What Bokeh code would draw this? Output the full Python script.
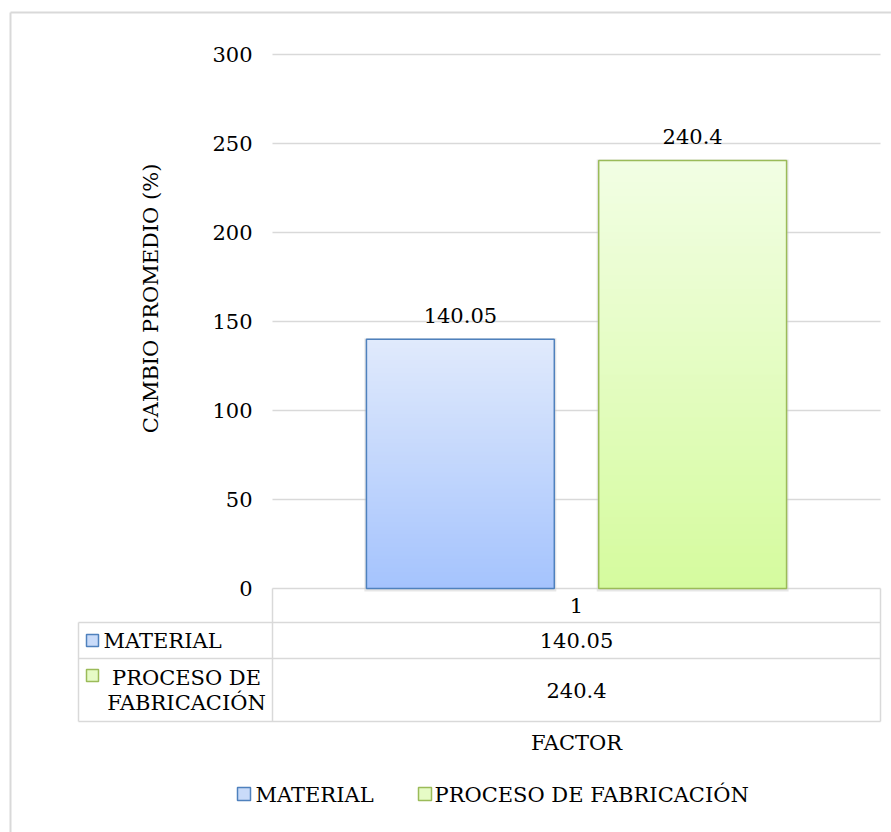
import math

from bokeh.core.properties import value
from bokeh.embed import file_html
from bokeh.models import Range1d
from bokeh.plotting import figure
from bokeh.resources import INLINE

# ---- data ---------------------------------------------------------------
categories = ["1"]
series_names = ["MATERIAL", "PROCESO DE FABRICACIÓN"]
material = [140.05]
proceso = [240.4]
y_ticks = [0, 50, 100, 150, 200, 250, 300]
y_title = "CAMBIO PROMEDIO (%)"
x_title = "FACTOR"

# ---- page layout (pixels) -------------------------------------------------
W, H = 891, 832
PLOT_L, PLOT_R = 272, 880          # plot area, left/right edge
PLOT_T, PLOT_B = 54, 588           # plot area, top (y=300) / bottom (y=0)
Y_MAX = 300

FONT = value("DejaVu Serif")
FS = "21px"
GRID = "#d9d9d9"
BLUE_LINE, GREEN_LINE = "#4f81bd", "#9bbb59"
BLUE_TOP, BLUE_BOT = (0xe0, 0xea, 0xfc), (0xa5, 0xc3, 0xfd)
GREEN_TOP, GREEN_BOT = (0xf2, 0xfe, 0xe4), (0xd5, 0xfb, 0x9e)


def ux(px):
    """pixel column -> category units (0..1 spans the plot area)"""
    return (px - PLOT_L) / (PLOT_R - PLOT_L)


def vy(py):
    """pixel row -> value units"""
    return (PLOT_B - py) * Y_MAX / (PLOT_B - PLOT_T)


def dx(n):
    return n / (PLOT_R - PLOT_L)


def dy(n):
    return n * Y_MAX / (PLOT_B - PLOT_T)


def mix(a, b, t):
    return "#%02x%02x%02x" % tuple(round(a[i] + (b[i] - a[i]) * t) for i in range(3))


def label(x, y, text, align="left", **kw):
    p.text(x=x, y=y, text=text, text_font=FONT, text_font_size=FS,
           text_color="black", text_align=align, text_baseline="middle",
           **kw)


p = figure(
    width=W, height=H,
    x_range=Range1d(ux(0), ux(W)), y_range=Range1d(vy(H), vy(0)),
    x_axis_type=None, y_axis_type=None,
    toolbar_location=None, output_backend="svg",
    min_border=0, outline_line_color=None,
    background_fill_color="white", border_fill_color="white",
)

# chart-area frame
p.multi_line(xs=[[ux(10), ux(10)], [ux(10), ux(W + 10)]],
             ys=[[vy(12), vy(H + 10)], [vy(12), vy(12)]],
             line_color=GRID, line_width=2)

# horizontal gridlines (the one at 0 doubles as the category axis)
p.segment(x0=[0] * len(y_ticks), x1=[1] * len(y_ticks),
          y0=y_ticks, y1=y_ticks, line_color=GRID, line_width=1.5)

# value-axis tick labels
label([ux(252)] * len(y_ticks), y_ticks, [str(t) for t in y_ticks],
      align="right")

# value-axis title
label([ux(150)], [vy(298)], [y_title], align="center", angle=math.pi / 2)

# ---- bars -----------------------------------------------------------------
BAR_W = 0.309
OFFSETS = [-0.191, 0.191]
series = [
    (material, BLUE_TOP, BLUE_BOT, BLUE_LINE),
    (proceso, GREEN_TOP, GREEN_BOT, GREEN_LINE),
]
N = 60
for (vals, top_c, bot_c, line_c), off in zip(series, OFFSETS):
    for i, v in enumerate(vals):
        cx = i + 0.5 + off
        left, right = cx - BAR_W / 2, cx + BAR_W / 2
        # soft shadow
        p.quad(left=[left - dx(2)], right=[right + dx(2)], bottom=[-dy(3)],
               top=[v + dy(1)], fill_color="#c8c8c8", fill_alpha=0.45,
               line_color=None)
        # vertical gradient fill, light at the top (bands overlap to avoid seams)
        bots = [v * k / N for k in range(N)]
        tops = [min(v, v * (k + 1.8) / N) for k in range(N)]
        cols = [mix(bot_c, top_c, (k + 0.5) / N) for k in range(N)]
        p.quad(left=[left] * N, right=[right] * N, bottom=bots, top=tops,
               fill_color=cols, line_color=None)
        p.quad(left=[left], right=[right], bottom=[0], top=[v],
               fill_color=None, line_color=line_c, line_width=1.5)
        # data label
        label([cx], [v], [f"{v:g}"], align="center", y_offset=-24)

# ---- data table -------------------------------------------------------------
ROW_LINES = [622, 658, 721]
p.segment(x0=[ux(78)] * 3, x1=[ux(PLOT_R)] * 3,
          y0=[vy(r) for r in ROW_LINES], y1=[vy(r) for r in ROW_LINES],
          line_color=GRID, line_width=1.5)
p.segment(x0=[ux(78), ux(PLOT_L), ux(PLOT_R)],
          x1=[ux(78), ux(PLOT_L), ux(PLOT_R)],
          y0=[vy(622), vy(PLOT_B), vy(PLOT_B)],
          y1=[vy(721), vy(721), vy(721)],
          line_color=GRID, line_width=1.5)

# category header
label([i + 0.5 for i in range(len(categories))], [vy(605)] * len(categories),
      categories, align="center")

# table values
label([0.5], [vy(640)], [f"{material[0]:g}"], align="center")
label([0.5], [vy(690)], [f"{proceso[0]:g}"], align="center")

# table row keys
KEY_BLUE, KEY_GREEN = "#c9dbf9", "#e6fbc6"
p.quad(left=[ux(86), ux(86)], right=[ux(98), ux(98)],
       top=[vy(634), vy(669)], bottom=[vy(646), vy(681)],
       fill_color=[KEY_BLUE, KEY_GREEN], line_color=[BLUE_LINE, GREEN_LINE],
       line_width=1.5)
label([ux(103)], [vy(640)], [series_names[0]])
label([ux(186), ux(186)], [vy(677), vy(702)], ["PROCESO DE", "FABRICACIÓN"],
      align="center")

# category-axis title
label([0.5], [vy(742)], [x_title], align="center")

# ---- legend ----------------------------------------------------------------
p.quad(left=[ux(237), ux(418)], right=[ux(250), ux(431)],
       top=[vy(787), vy(787)], bottom=[vy(800), vy(800)],
       fill_color=[KEY_BLUE, KEY_GREEN], line_color=[BLUE_LINE, GREEN_LINE],
       line_width=1.5)
label([ux(255), ux(434)], [vy(794), vy(794)], series_names)

open("out.html", "w").write(file_html(p, INLINE))
